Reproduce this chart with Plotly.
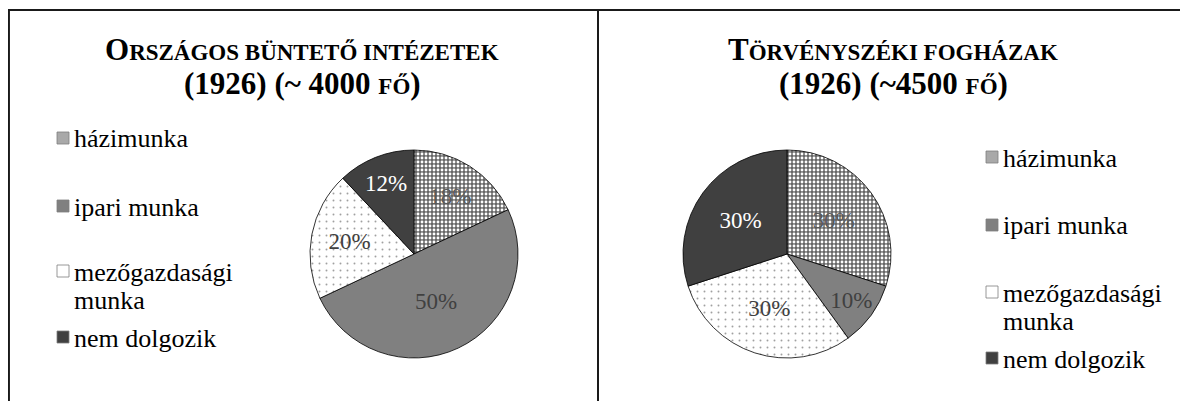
import plotly.graph_objects as go

# ---- data ----
categories = ["házimunka", "ipari munka", "mezőgazdasági munka", "nem dolgozik"]
legend_labels = ["házimunka", "ipari munka", "mezőgazdasági<br>munka", "nem dolgozik"]
values_left = [18, 50, 20, 12]
values_right = [30, 10, 30, 30]
title_left = ["O", "RSZÁGOS BÜNTETŐ INTÉZETEK", "(1926) (~ 4000 ", "FŐ", ")"]
title_right = ["T", "ÖRVÉNYSZÉKI FOGHÁZAK", "(1926) (~4500 ", "FŐ", ")"]

# ---- styles ----
OFF = 8  # page body margin
W, H = 1188 - OFF, 401 - OFF
FONT = "'Liberation Serif', 'Times New Roman', Times, serif"
fill_colors = ["#666666", "#808080", "#ffffff", "#404040"]
pat_shape = [".", "", ".", ""]
pat_fg = ["#ffffff", "#808080", "#a0a0a0", "#404040"]
pat_size = [4, 8, 7, 8]
pat_sol = [0.4, 0.3, 0.06, 0.3]
swatch_colors = ["#a9a9a9", "#808080", "#ffffff", "#404040"]
text_cols_left = ["#595959", "#404040", "#404040", "#ffffff"]
text_cols_right = ["#595959", "#404040", "#404040", "#ffffff"]

def px_x(x):
    return (x - OFF) / W

def px_y(y):
    return 1 - (y - OFF) / H

def pie(vals, cx, cy, r, tcols):
    return go.Pie(
        labels=categories, values=vals, sort=False, direction="clockwise", rotation=0,
        domain=dict(x=[px_x(cx - r), px_x(cx + r)], y=[px_y(cy + r), px_y(cy - r)]),
        marker=dict(colors=fill_colors, line=dict(color="#000000", width=0.8),
                    pattern=dict(shape=pat_shape, fgcolor=pat_fg, bgcolor=fill_colors,
                                 size=pat_size, solidity=pat_sol)),
        textinfo="percent", texttemplate="%{percent:.0%}", textposition="inside",
        insidetextorientation="horizontal",
        insidetextfont=dict(family=FONT, size=23, color=tcols),
        showlegend=False, hoverinfo="label+percent",
    )

fig = go.Figure()
fig.add_trace(pie(values_left, 414, 254, 104, text_cols_left))
fig.add_trace(pie(values_right, 787, 254, 104, text_cols_right))

shapes = []
bc = "#1a1a1a"
shapes.append(dict(type="line", xref="paper", yref="paper", x0=0, x1=1.0, y0=px_y(10), y1=px_y(10), line=dict(color=bc, width=2)))
shapes.append(dict(type="line", xref="paper", yref="paper", x0=0.0008, x1=0.0008, y0=px_y(10), y1=0, line=dict(color=bc, width=2)))
shapes.append(dict(type="line", xref="paper", yref="paper", x0=px_x(598), x1=px_x(598), y0=px_y(10), y1=0, line=dict(color=bc, width=2)))

annotations = []
def title(parts, cx):
    big, small, l2a, l2sc, l2b = parts
    annotations.append(dict(xref="paper", yref="paper", x=px_x(cx), y=px_y(50), xanchor="center", yanchor="middle",
                            showarrow=False, font=dict(family=FONT, size=31, color="#000000"),
                            text=f"<b>{big}<span style='font-size:23px'>{small}</span></b>"))
    annotations.append(dict(xref="paper", yref="paper", x=px_x(cx), y=px_y(84), xanchor="center", yanchor="middle",
                            showarrow=False, font=dict(family=FONT, size=31, color="#000000"),
                            text=f"<b>{l2a}<span style='font-size:23px'>{l2sc}</span>{l2b}</b>"))

title(title_left, 302)
title(title_right, 893)

def legend(sw_x, text_x, ys):
    for i, lab in enumerate(legend_labels):
        y = ys[i]
        shapes.append(dict(type="rect", xref="paper", yref="paper",
                           x0=px_x(sw_x), x1=px_x(sw_x + 12), y0=px_y(y + 6), y1=px_y(y - 6),
                           fillcolor=swatch_colors[i], line=dict(color="#7f7f7f", width=0.8)))
        lines = lab.split("<br>")
        for j, ln in enumerate(lines):
            annotations.append(dict(xref="paper", yref="paper", x=px_x(text_x), y=px_y(y + 28 * j + 1),
                                    xanchor="left", yanchor="middle", showarrow=False,
                                    font=dict(family=FONT, size=26, color="#000000"), text=ln))

legend(57, 72, [138, 206, 271, 337])
legend(986, 1001, [157, 225, 292, 358])

fig.update_layout(width=W, height=H, margin=dict(l=0, r=0, t=0, b=0),
                  paper_bgcolor="#ffffff", plot_bgcolor="#ffffff",
                  font=dict(family=FONT),
                  shapes=shapes, annotations=annotations, showlegend=False)
fig.write_html("out.html")
